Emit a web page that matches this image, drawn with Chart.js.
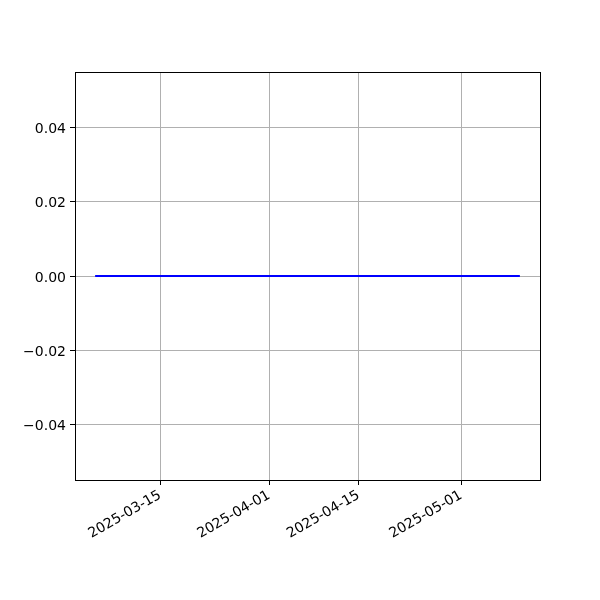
<!DOCTYPE html>
<html>
<head>
<meta charset="utf-8">
<script src="https://cdn.jsdelivr.net/npm/chart.js@4.4.1/dist/chart.umd.min.js"></script>
<style>
  html, body { margin: 0; padding: 0; background: #ffffff; }
  #chart { display: block; }
</style>
</head>
<body>
<canvas id="chart" width="600" height="600"></canvas>
<script>
// Chart data
const dates = ['2025-03-05', '2025-05-10'];
const values = [0, 0];
const xTickLabels = ['2025-03-15', '2025-04-01', '2025-04-15', '2025-05-01'];
const yTickValues = [-0.04, -0.02, 0.00, 0.02, 0.04];

const DAY = 86400000;

function toDay(s) {
    return Date.UTC(+s.slice(0, 4), +s.slice(5, 7) - 1, +s.slice(8, 10)) / DAY;
}

const points = dates.map((d, i) => ({ x: toDay(d), y: values[i] }));
const xFirst = toDay(dates[0]);
const xLast = toDay(dates[dates.length - 1]);
const xPad = (xLast - xFirst) * 0.05;

function dayLabel(v) {
    const d = new Date(Math.round(v) * DAY);
    const m = String(d.getUTCMonth() + 1).padStart(2, '0');
    const dd = String(d.getUTCDate()).padStart(2, '0');
    return d.getUTCFullYear() + '-' + m + '-' + dd;
}

function fmtY(v) {
    const s = Math.abs(v).toFixed(2);
    return (v < -1e-9 ? '\u2212' : '') + s;
}

// draws the full black frame round the plot area
const framePlugin = {
    id: 'frame',
    afterDatasetsDraw(chart) {
        const a = chart.chartArea;
        const ctx = chart.ctx;
        ctx.save();
        ctx.strokeStyle = '#000000';
        ctx.lineWidth = 1;
        ctx.strokeRect(Math.round(a.left) + 0.5, Math.round(a.top) + 0.5,
            Math.round(a.right - a.left), Math.round(a.bottom - a.top));
        ctx.restore();
    }
};

const tickFont = { family: 'DejaVu Sans', size: 14 };

new Chart(document.getElementById('chart').getContext('2d'), {
    type: 'line',
    data: {
        datasets: [{
            data: points,
            borderColor: '#0000ff',
            borderWidth: 2,
            borderCapStyle: 'square',
            pointRadius: 0,
            fill: false,
            tension: 0
        }]
    },
    options: {
        responsive: false,
        animation: false,
        layout: {
            padding: { top: 72, right: 60, left: 0, bottom: 0 }
        },
        plugins: {
            legend: { display: false },
            tooltip: { enabled: false }
        },
        scales: {
            x: {
                type: 'linear',
                min: xFirst - xPad,
                max: xLast + xPad,
                afterBuildTicks(axis) {
                    axis.ticks = xTickLabels.map(t => ({ value: toDay(t) }));
                },
                afterFit(axis) {
                    axis.height = 120;
                },
                ticks: {
                    autoSkip: false,
                    maxRotation: 30,
                    minRotation: 30,
                    color: '#000000',
                    font: tickFont,
                    padding: 2,
                    callback: v => dayLabel(v)
                },
                grid: {
                    color: '#b0b0b0',
                    tickColor: '#000000',
                    tickLength: 5,
                    lineWidth: 1
                },
                border: { color: '#000000' }
            },
            y: {
                min: -0.055,
                max: 0.055,
                afterBuildTicks(axis) {
                    axis.ticks = yTickValues.map(v => ({ value: v }));
                },
                afterFit(axis) {
                    axis.width = 75;
                },
                ticks: {
                    color: '#000000',
                    font: tickFont,
                    padding: 4,
                    labelOffset: 2,
                    callback: v => fmtY(v)
                },
                grid: {
                    color: '#b0b0b0',
                    tickColor: '#000000',
                    tickLength: 5,
                    lineWidth: 1
                },
                border: { color: '#000000' }
            }
        }
    },
    plugins: [framePlugin]
});
</script>
</body>
</html>
